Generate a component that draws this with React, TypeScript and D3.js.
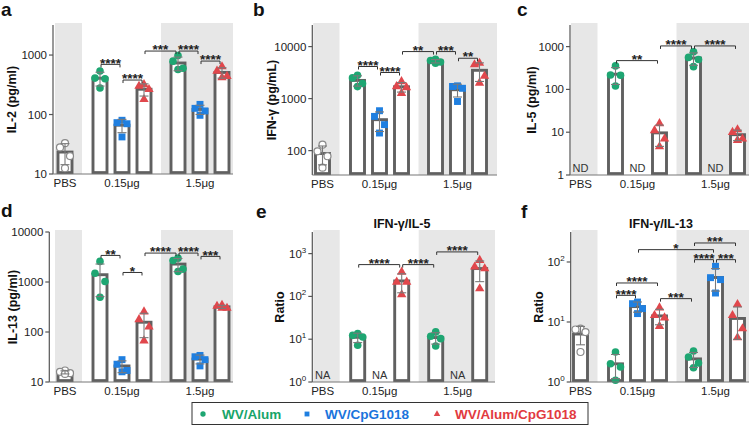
import React from "react";
import * as d3 from "d3";

// ---------- data ----------
const slotSeries = ["pbs", "alum", "cpg", "alumcpg", "alum", "cpg", "alumcpg"];
const doseLabels = ["PBS", "0.15μg", "1.5μg"];
const legendLabels = ["WV/Alum", "WV/CpG1018", "WV/Alum/CpG1018"];

const il2 = [
  [33, 28, 20, 12.5],
  [540, 410, 400, 280],
  [80, 73, 70, 42],
  [320, 300, 265, 180],
  [980, 790, 600, 570],
  [148, 127, 115, 97],
  [640, 540, 440, 420],
];
const ifng = [
  [130, 97, 78, 47],
  [2800, 2500, 1950, 1700],
  [585, 455, 316, 218],
  [2130, 1710, 1640, 1270],
  [5700, 5400, 5050, 4800],
  [1760, 1710, 1580, 880],
  [4800, 4500, 2700, 2000],
];
const il5 = [
  null,
  [354, 218, 215, 120],
  null,
  [16, 11, 7, 4.6],
  [760, 560, 500, 340],
  null,
  [11.5, 10, 7, 6.5],
];
const il13 = [
  [17, 16, 15, 14.5],
  [2580, 1500, 1020, 495],
  [28, 22.7, 17, 16],
  [255, 178, 127, 67],
  [3000, 2700, 1810, 1620],
  [34, 32, 28, 21],
  [345, 330, 300, 300],
];
const ratioIl5 = [
  null,
  [13.5, 12.3, 11.3, 7.2],
  null,
  [373, 218, 218, 110],
  [14.8, 11.7, 10.3, 6.95],
  null,
  [700, 489, 447, 152],
];
const ratioIl13 = [
  [7.74, 7.5, 6.8, 3.16],
  [3.16, 2.02, 1.78, 1.07],
  [21.5, 20.2, 16.7, 13.8],
  [17.3, 12.9, 11.8, 8.5],
  [3.29, 2.61, 2.07, 1.73],
  [84.7, 54.8, 50.8, 30.4],
  [19.7, 12.9, 7.74, 5.48],
];

// significance brackets: [fromSlot, toSlot, label, level (data units)]
const sigA: [number, number, string, number][] = [
  [1, 2, "****", 697], [2, 3, "****", 380], [3, 4, "***", 1167], [4, 5, "****", 1167], [5, 6, "****", 792],
];
const sigB: [number, number, string, number][] = [
  [1, 2, "****", 4140], [2, 3, "****", 3175], [3, 4, "**", 8020], [4, 5, "***", 8020], [5, 6, "**", 5970],
];
const sigC: [number, number, string, number][] = [
  [1, 3, "**", 471], [3, 4, "****", 1038], [4, 6, "****", 1038],
];
const sigD: [number, number, string, number][] = [
  [1, 2, "**", 3400], [2, 3, "*", 1550], [3, 4, "****", 3790], [4, 5, "****", 3790], [5, 6, "***", 3250],
];
const sigE: [number, number, string, number][] = [
  [1, 3, "****", 554], [3, 4, "****", 554], [4, 6, "****", 1096],
];
const sigF: [number, number, string, number][] = [
  [1, 2, "****", 27.8], [1, 3, "****", 44.7], [3, 4, "***", 24.5], [2, 5, "*", 160.5],
  [4, 5, "****", 109.4], [5, 6, "***", 109.4], [4, 6, "***", 207.4],
];

const ticksA = [10, 100, 1000];
const ticksB = [100, 1000, 10000];
const ticksC = [1, 10, 100, 1000];
const ticksD = [10, 100, 1000, 10000];
const ticksE = [1, 10, 100, 1000];
const ticksF = [1, 10, 100];

// ---------- layout / style ----------
const FONT = "'Liberation Sans', Arial, Helvetica, sans-serif";
const COLORS: Record<string, string> = {
  alum: "#1ea672",
  cpg: "#1f7fe0",
  alumcpg: "#e0474c",
  pbs: "#8a8a8a",
};
const LEGEND_TEXT = ["#17a56a", "#1a74dc", "#e23a40"];
const SLOT_OFFSETS = [10, 45, 67, 89, 123, 145, 167];
const BG = "#e7e7e7";
const BAR_STROKE = "#606060";
const JITTER = [0, -5, 5, 0];

type PanelCfg = {
  letter: string;
  letterX: number;
  letterY: number;
  axisX: number;
  x0: number;
  xEnd: number;
  top: number;
  bottom: number;
  domain: [number, number];
  ticks: number[];
  sup: boolean;
  data: (number[] | null)[];
  sig: [number, number, string, number][];
  ylabel: string;
  ylabelX: number;
  title?: string;
  titleX?: number;
  missing?: string;
};

const panels: PanelCfg[] = [
  { letter: "a", letterX: 1, letterY: 16, axisX: 53, x0: 55, xEnd: 233, top: 25, bottom: 174, domain: [10, 3200], ticks: ticksA, sup: false, data: il2, sig: sigA, ylabel: "IL-2 (pg/ml)", ylabelX: 12 },
  { letter: "b", letterX: 253, letterY: 16, axisX: 312.3, x0: 312.5, xEnd: 497, top: 25, bottom: 175, domain: [34, 26000], ticks: ticksB, sup: false, data: ifng, sig: sigB, ylabel: "IFN-γ (pg/mL)", ylabelX: 272 },
  { letter: "c", letterX: 517, letterY: 16, axisX: 570, x0: 570.5, xEnd: 749, top: 25, bottom: 175, domain: [1, 3200], ticks: ticksC, sup: false, data: il5, sig: sigC, ylabel: "IL-5 (pg/ml)", ylabelX: 532, missing: "ND" },
  { letter: "d", letterX: 1, letterY: 217, axisX: 49.3, x0: 55, xEnd: 233, top: 232, bottom: 382, domain: [10, 10000], ticks: ticksD, sup: false, data: il13, sig: sigD, ylabel: "IL-13 (pg/ml)", ylabelX: 13 },
  { letter: "e", letterX: 256, letterY: 218, axisX: 312.3, x0: 312.7, xEnd: 495, top: 232, bottom: 382, domain: [1, 3200], ticks: ticksE, sup: true, data: ratioIl5, sig: sigE, ylabel: "Ratio", ylabelX: 280, title: "IFN-γ/IL-5", titleX: 402, missing: "NA" },
  { letter: "f", letterX: 521, letterY: 218, axisX: 570.7, x0: 570.5, xEnd: 749, top: 232, bottom: 382, domain: [1, 316], ticks: ticksF, sup: true, data: ratioIl13, sig: sigF, ylabel: "Ratio", ylabelX: 539, title: "IFN-γ/IL-13", titleX: 661 },
];

function Marker({ series, x, y, size = 1 }: { series: string; x: number; y: number; size?: number }) {
  const c = COLORS[series];
  if (series === "pbs") {
    return <circle cx={x} cy={y} r={3.5 * size} fill="white" stroke={c} strokeWidth={1.2} />;
  }
  if (series === "alum") {
    return <circle cx={x} cy={y} r={3.8 * size} fill={c} />;
  }
  const sym = series === "cpg" ? d3.symbolSquare : d3.symbolTriangle;
  const area = series === "cpg" ? 48 * size * size : 38 * size * size;
  const p = d3.symbol().type(sym).size(area)() as string;
  return <path d={p} transform={`translate(${x},${y})`} fill={c} />;
}

function Panel({ cfg }: { cfg: PanelCfg }) {
  const y = d3.scaleLog().domain(cfg.domain).range([cfg.bottom, cfg.top]);
  const cx = (i: number) => cfg.x0 + SLOT_OFFSETS[i];
  const barW = 14;
  const bgStart = Math.max(cfg.axisX + 1, cfg.x0);
  return (
    <g fontFamily={FONT}>
      {/* backgrounds */}
      <rect x={bgStart} y={cfg.top - 2} width={cfg.x0 + 27 - bgStart} height={cfg.bottom - cfg.top + 2} fill={BG} />
      <rect x={cfg.x0 + 106} y={cfg.top - 2} width={cfg.xEnd - (cfg.x0 + 106)} height={cfg.bottom - cfg.top + 2} fill={BG} />

      {/* bars, points, error bars */}
      {cfg.data.map((vals, i) => {
        const x = cx(i);
        const series = slotSeries[i];
        if (!vals) {
          return (
            <text key={i} x={x} y={cfg.bottom - 3} fontSize={11} textAnchor="middle" fill="#333">
              {cfg.missing}
            </text>
          );
        }
        const mean = d3.mean(vals) as number;
        const sd = d3.deviation(vals) as number;
        const hi = mean + sd;
        const lo = Math.max(mean - sd, cfg.domain[0]);
        const order = d3.range(vals.length).sort((a, b) => vals[b] - vals[a]);
        const rank: number[] = [];
        order.forEach((idx, r) => (rank[idx] = r));
        return (
          <g key={i}>
            <rect x={x - barW / 2} y={y(mean)} width={barW} height={cfg.bottom - y(mean) - 1.4} fill="white" stroke={BAR_STROKE} strokeWidth={2.9} />
            {vals.map((v, k) => (
              <Marker key={k} series={series} x={x + JITTER[rank[k]]} y={y(v)} />
            ))}
            <g stroke="#7a7a7a" strokeWidth={1.1}>
              <line x1={x} x2={x} y1={y(hi)} y2={y(lo)} />
              <line x1={x - 4.5} x2={x + 4.5} y1={y(hi)} y2={y(hi)} />
              <line x1={x - 4.5} x2={x + 4.5} y1={y(lo)} y2={y(lo)} />
            </g>
          </g>
        );
      })}

      {/* axes */}
      <line x1={cfg.axisX} x2={cfg.axisX} y1={cfg.top} y2={cfg.bottom} stroke="#555" strokeWidth={1.2} />
      <line x1={cfg.axisX} x2={cfg.xEnd} y1={cfg.bottom} y2={cfg.bottom} stroke="#777" strokeWidth={1} />
      {cfg.ticks.map((t) => (
        <g key={t}>
          <line x1={cfg.axisX - 4} x2={cfg.axisX} y1={y(t)} y2={y(t)} stroke="#555" strokeWidth={1.2} />
          <text x={cfg.axisX - 6} y={y(t) + 4} fontSize={11.5} textAnchor="end" fill="#222">
            {cfg.sup ? (
              <>
                10
                <tspan dy={-5} fontSize={8}>{String(Math.round(Math.log10(t)))}</tspan>
              </>
            ) : (
              String(t)
            )}
          </text>
        </g>
      ))}

      {/* x labels */}
      <text x={cx(0)} y={cfg.bottom + 13} fontSize={11.5} textAnchor="middle" fill="#222">{doseLabels[0]}</text>
      <text x={cx(2)} y={cfg.bottom + 13} fontSize={11.5} textAnchor="middle" fill="#222">{doseLabels[1]}</text>
      <text x={cx(5)} y={cfg.bottom + 13} fontSize={11.5} textAnchor="middle" fill="#222">{doseLabels[2]}</text>

      {/* significance */}
      {cfg.sig.map(([a, b, lab, lv], k) => {
        const x1 = cx(a) + 1;
        const x2 = cx(b) - 2;
        const yy = y(lv);
        return (
          <g key={k}>
            <path d={`M${x1},${yy + 3}V${yy}H${x2}V${yy + 3}`} fill="none" stroke="#333" strokeWidth={1} />
            <text x={(x1 + x2) / 2} y={yy + 3.2} fontSize={13.5} fontWeight="bold" textAnchor="middle" fill="#222">{lab}</text>
          </g>
        );
      })}

      {/* y label */}
      <text
        transform={`translate(${cfg.ylabelX},${(cfg.top + cfg.bottom) / 2}) rotate(-90)`}
        textAnchor="middle"
        dominantBaseline="central"
        fontSize={12.5}
        fontWeight="bold"
        fill="#111"
      >
        {cfg.ylabel}
      </text>

      {cfg.title && (
        <text x={cfg.titleX} y={cfg.top - 4} fontSize={12.5} fontWeight="bold" textAnchor="middle" fill="#111">
          {cfg.title}
        </text>
      )}

      <text x={cfg.letterX} y={cfg.letterY} fontSize={19} fontWeight="bold" fill="#111">{cfg.letter}</text>
    </g>
  );
}

function Legend() {
  const items = [
    { series: "alum", mx: 203, tx: 222 },
    { series: "cpg", mx: 307, tx: 325 },
    { series: "alumcpg", mx: 437, tx: 455 },
  ];
  return (
    <g fontFamily={FONT}>
      <rect x={192} y={402.5} width={396} height={22} fill="white" stroke="#333" strokeWidth={1} />
      {items.map((it, i) => (
        <g key={i}>
          <Marker series={it.series} x={it.mx} y={414} size={0.7} />
          <text x={it.tx} y={418.5} fontSize={13.5} fontWeight="bold" fill={LEGEND_TEXT[i]}>
            {legendLabels[i]}
          </text>
        </g>
      ))}
    </g>
  );
}

export default function App() {
  return (
    <svg
      width={750}
      height={426}
      viewBox="0 0 750 426"
      style={{ position: "absolute", left: 0, top: 0, background: "white" }}
    >
      <rect width={750} height={426} fill="white" />
      {panels.map((p) => (
        <Panel key={p.letter} cfg={p} />
      ))}
      <Legend />
    </svg>
  );
}
